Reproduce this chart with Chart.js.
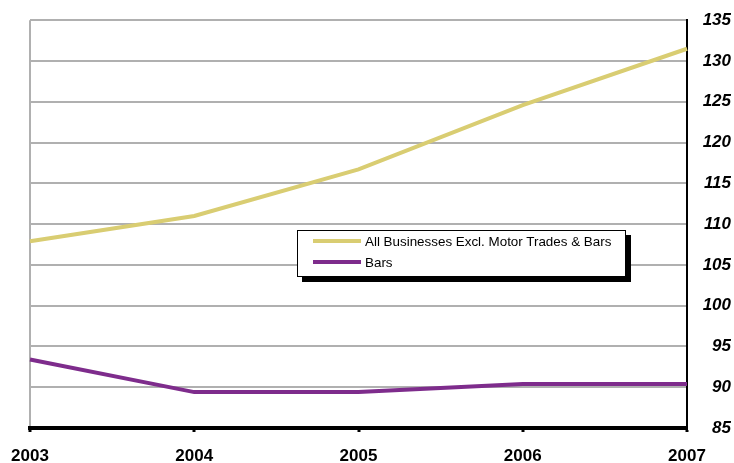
<!DOCTYPE html>
<html>
<head>
<meta charset="utf-8">
<script src="https://cdn.jsdelivr.net/npm/chart.js@4/dist/chart.umd.min.js"></script>
<style>
  html, body { margin: 0; padding: 0; background: #fff; }
  #wrap { position: relative; width: 734px; height: 463px; }
  canvas { display: block; }
  #legend {
    position: absolute; left: 297px; top: 230px; width: 327px; height: 45px;
    border: 1.5px solid #000; background: #fff; box-shadow: 5px 5px 0 #000;
    font-family: "Liberation Sans", Arial, sans-serif; font-size: 13.4px; color: #000;
  }
  .item { position: absolute; left: 15px; height: 18px; display: flex; align-items: center; white-space: nowrap; }
  .sw { width: 48px; height: 4px; margin-right: 4px; }
</style>
</head>
<body>
<div id="wrap">
  <canvas id="c" width="734" height="463"></canvas>
  <div id="legend"></div>
</div>
<script>
const years = ["2003", "2004", "2005", "2006", "2007"];
const allBusinesses = [107.9, 111.0, 116.7, 124.6, 131.5];
const bars = [93.4, 89.4, 89.4, 90.4, 90.4];
const seriesNames = ["All Businesses Excl. Motor Trades & Bars", "Bars"];
const seriesColors = ["#d9cd72", "#7e2c8c"];
const yMin = 85, yMax = 135, yStep = 5;

const datasets = [allBusinesses, bars].map((d, i) => ({
  label: seriesNames[i], data: d, borderColor: seriesColors[i], backgroundColor: seriesColors[i],
  borderWidth: 4, pointRadius: 0, tension: 0, fill: false
}));

const leg = document.getElementById('legend');
seriesNames.forEach((n, i) => {
  const it = document.createElement('div');
  it.className = 'item';
  it.style.top = (i === 0 ? 1 : 22) + 'px';
  it.innerHTML = '<span class="sw" style="background:' + seriesColors[i] + '"></span><span></span>';
  it.lastChild.textContent = n;
  leg.appendChild(it);
});

new Chart(document.getElementById('c'), {
  type: 'line',
  data: { labels: years, datasets },
  options: {
    responsive: false, animation: false,
    layout: { padding: { top: 20, right: 3, left: 30, bottom: 0 } },
    plugins: { legend: { display: false }, tooltip: { enabled: false } },
    scales: {
      x: {
        offset: false,
        grid: {
          color: c => c.index === 0 ? '#b0b0b0' : 'rgba(0,0,0,0)',
          lineWidth: 2, drawTicks: true, tickLength: 4, tickColor: '#000', tickWidth: 3
        },
        border: { display: true, color: '#000', width: 4 },
        ticks: { color: '#000', padding: 14, font: { family: 'Liberation Sans', size: 17, weight: 'bold' }, maxRotation: 0, autoSkip: false },
        afterFit: s => { s.height = 35; s.paddingLeft = 0; s.paddingRight = 0; }
      },
      y: {
        position: 'right', min: yMin, max: yMax,
        grid: { color: '#b0b0b0', lineWidth: 2, drawTicks: false },
        border: { display: true, color: '#000', width: 2 },
        ticks: { stepSize: yStep, color: '#000', padding: 10, crossAlign: 'far',
          font: { family: 'Liberation Sans', size: 17, weight: 'bold', style: 'italic' } },
        afterFit: s => { s.width = 44; }
      }
    }
  }
});
</script>
</body>
</html>
